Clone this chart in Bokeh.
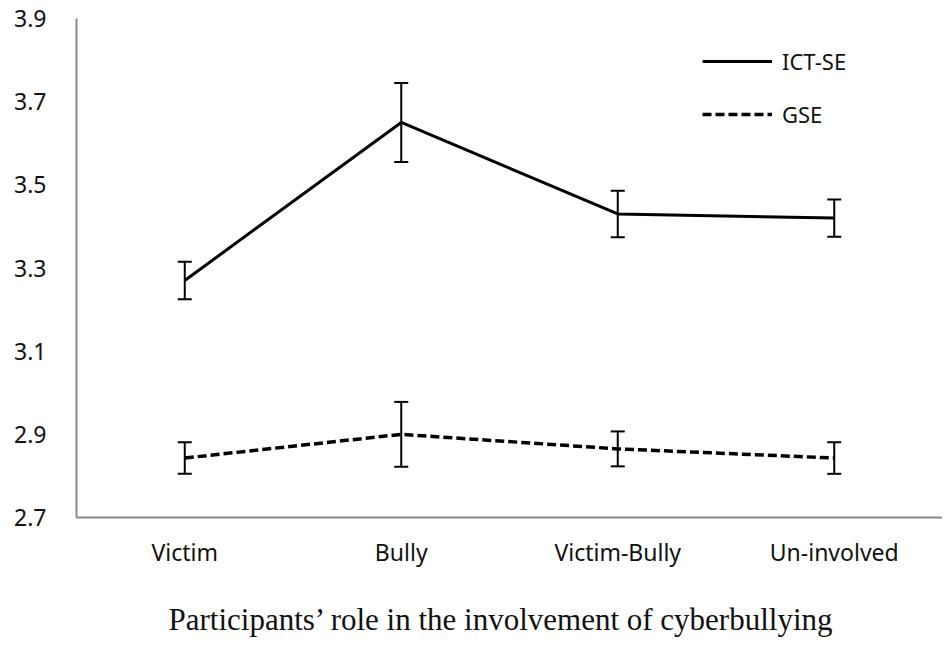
from bokeh.plotting import figure
from bokeh.models import ColumnDataSource, Whisker, Legend, LegendItem, FixedTicker, TeeHead, Title
from bokeh.embed import file_html
from bokeh.resources import INLINE

categories = ["Victim", "Bully", "Victim-Bully", "Un-involved"]
ict_mean = [3.27, 3.65, 3.43, 3.42]
ict_err = [0.045, 0.095, 0.056, 0.045]
gse_mean = [2.843, 2.900, 2.865, 2.843]
gse_err = [0.038, 0.078, 0.042, 0.038]
y_ticks = [2.7, 2.9, 3.1, 3.3, 3.5, 3.7, 3.9]

src_ict = ColumnDataSource(dict(x=categories, y=ict_mean,
                                lo=[m - e for m, e in zip(ict_mean, ict_err)],
                                hi=[m + e for m, e in zip(ict_mean, ict_err)]))
src_gse = ColumnDataSource(dict(x=categories, y=gse_mean,
                                lo=[m - e for m, e in zip(gse_mean, gse_err)],
                                hi=[m + e for m, e in zip(gse_mean, gse_err)]))

p = figure(width=942, height=642, x_range=categories, y_range=(2.7, 3.9),
           output_backend="svg", toolbar_location=None,
           min_border_left=76, min_border_right=0, min_border_top=18, min_border_bottom=125)
p.outline_line_color = None
p.grid.visible = False
p.x_range.range_padding = 0

r1 = p.line("x", "y", source=src_ict, line_color="black", line_width=3)
r2 = p.line("x", "y", source=src_gse, line_color="black", line_width=3.5, line_dash="9 4")

for src in (src_ict, src_gse):
    w = Whisker(source=src, base="x", upper="hi", lower="lo", line_color="black", line_width=2,
                upper_head=TeeHead(size=14, line_width=2, line_color="black"),
                lower_head=TeeHead(size=14, line_width=2, line_color="black"))
    p.add_layout(w)

p.yaxis.ticker = FixedTicker(ticks=y_ticks)
p.yaxis.major_tick_line_color = None
p.yaxis.minor_tick_line_color = None
p.yaxis.axis_line_color = "#888888"
p.yaxis.axis_line_width = 2
p.yaxis.major_label_standoff = 24
p.yaxis.major_label_text_font = "Noto Sans"
p.yaxis.major_label_text_font_size = "23px"
p.yaxis.major_label_text_color = "#111111"

p.xaxis.major_tick_line_color = None
p.xaxis.minor_tick_line_color = None
p.xaxis.axis_line_color = "#888888"
p.xaxis.axis_line_width = 2
p.xaxis.major_label_standoff = 12
p.xaxis.major_label_text_font = "Noto Sans"
p.xaxis.major_label_text_font_size = "23px"
p.xaxis.major_label_text_color = "#111111"
# invisible spacer label to push the title down
p.xaxis.axis_label = "."
p.xaxis.axis_label_text_alpha = 0
p.xaxis.axis_label_text_font_size = "23px"
p.xaxis.axis_label_standoff = 5

xtitle = Title(text="Participants\u2019 role in the involvement of cyberbullying",
               align="left", offset=92, standoff=8,
               text_font="Liberation Serif", text_font_style="normal",
               text_font_size="31px", text_color="#111111")
p.add_layout(xtitle, "below")

legend = Legend(items=[LegendItem(label="ICT-SE", renderers=[r1]),
                       LegendItem(label="GSE", renderers=[r2])],
                location=(626, 388), glyph_width=70, glyph_height=26, spacing=23,
                padding=0, margin=0, label_standoff=10, label_height=26,
                border_line_color=None, background_fill_alpha=0,
                label_text_font="Noto Sans", label_text_font_size="22px",
                label_text_color="#111111")
p.add_layout(legend)

open("out.html", "w").write(file_html(p, INLINE))
